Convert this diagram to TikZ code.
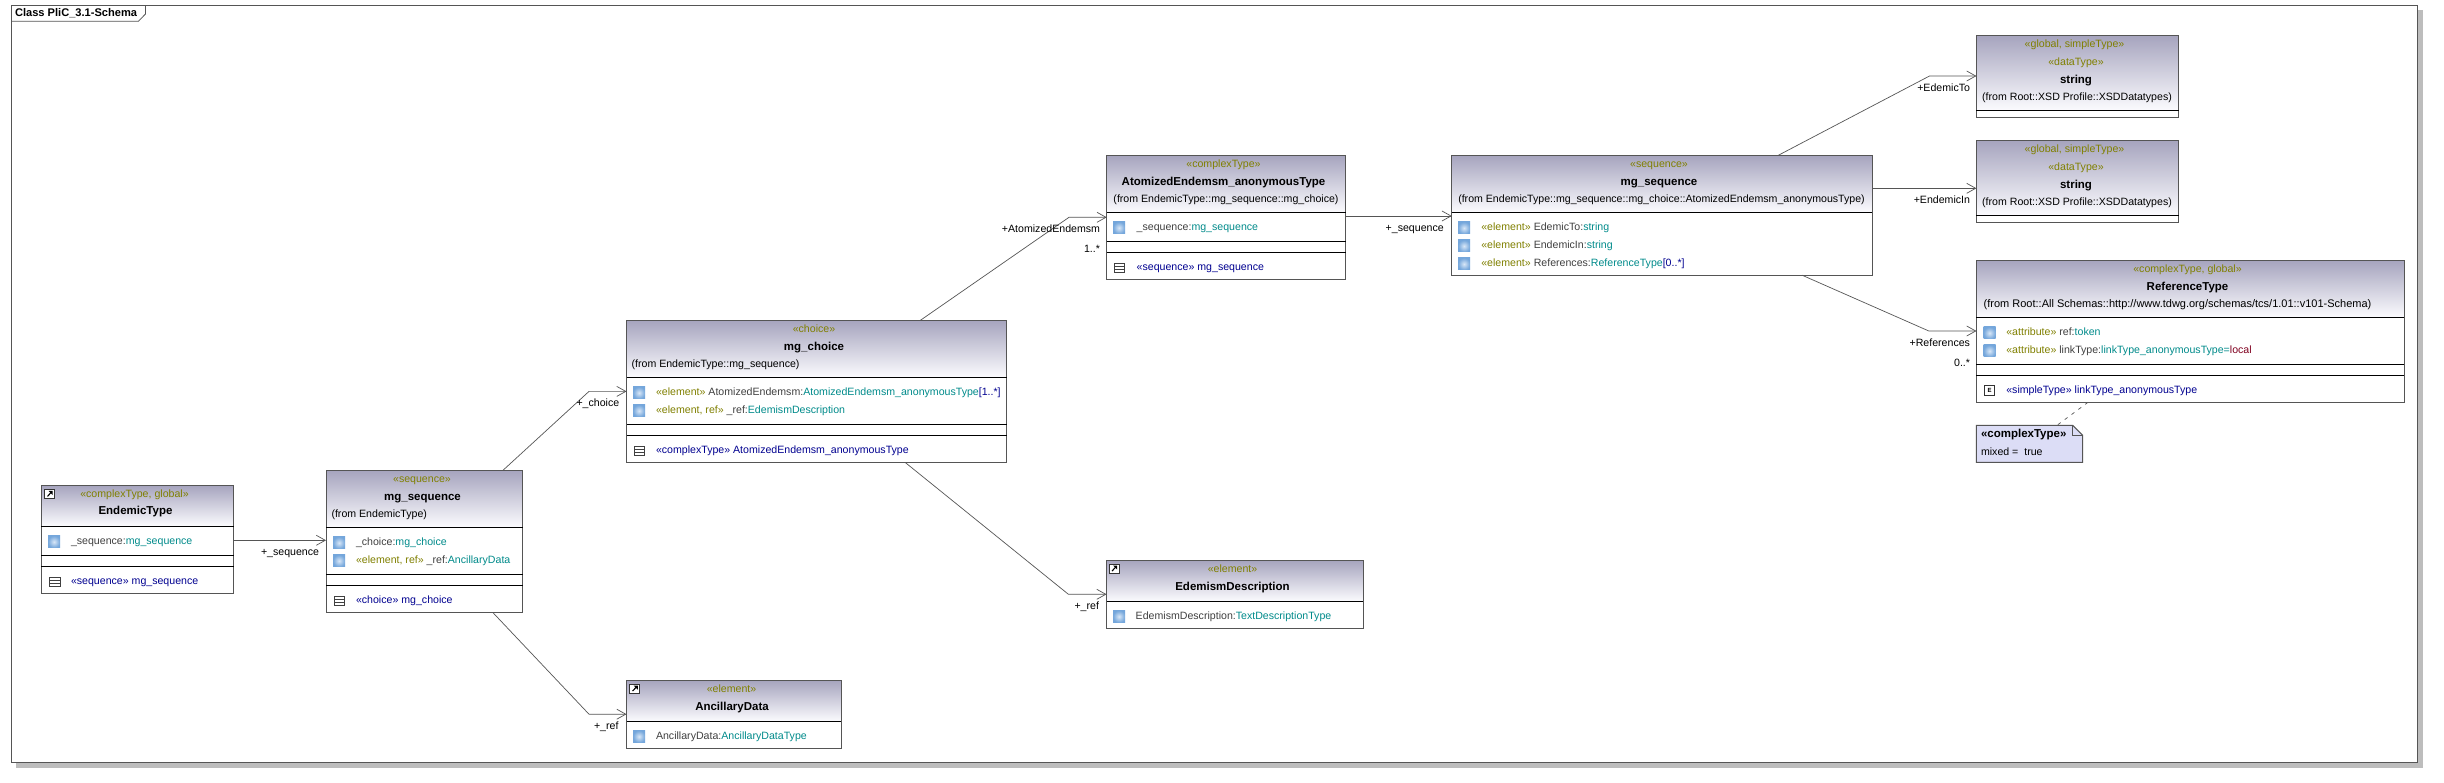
\documentclass[tikz,border=0pt]{standalone}
\usepackage{fontspec}
\setmainfont{Liberation Sans}
\usetikzlibrary{arrows.meta,calc,shapes.misc}
\definecolor{ster}{HTML}{808000}
\definecolor{typ}{HTML}{008B8B}
\definecolor{nam}{HTML}{404040}
\definecolor{opc}{HTML}{000090}
\definecolor{lit}{HTML}{800020}
\definecolor{edge}{HTML}{555555}
\definecolor{hdtop}{HTML}{A6A4BE}
\definecolor{hdbot}{HTML}{FBFBFE}
\definecolor{shad}{HTML}{BDBDBD}
\definecolor{notefill}{HTML}{DCDDF6}
\definecolor{HL}{HTML}{D9E7F7}
\definecolor{HD}{HTML}{74A6DB}
\newcommand{\st}[1]{\textcolor{ster}{#1}}
\newcommand{\ty}[1]{\textcolor{typ}{#1}}
\newcommand{\nm}[1]{\textcolor{nam}{#1}}
\newcommand{\op}[1]{\textcolor{opc}{#1}}
\newcounter{lblc}
\tikzset{
  every node/.style={inner sep=0pt,outer sep=0pt},
  lbl/.style={font=\fontsize{10.6}{13}\selectfont,text=black,yshift=-0.4pt},
  boxframe/.style={draw=edge,line width=1pt},
  hdr/.style={top color=hdtop,bottom color=hdbot,draw=none},
  sepl/.style={draw=black,line width=0.9pt},
  assoc/.style={draw=edge,line width=0.7pt,-{Straight Barb[length=9pt,width=10pt,line width=0.7pt]}},
  attric/.style={minimum width=12pt,minimum height=12pt,inner color=HL,outer color=HD},
  opic/.style={draw=black!75,line width=0.8pt,minimum width=10.5pt,minimum height=9pt},
  pinic/.style={draw=black!80,line width=0.8pt,fill=white,minimum width=10pt,minimum height=9pt},
}
\newcommand{\tL}[3]{\stepcounter{lblc}\node[lbl,anchor=mid west] (t\thelblc) at (#1,#2) {#3};}
\newcommand{\tC}[3]{\stepcounter{lblc}\node[lbl,anchor=mid] (t\thelblc) at (#1,#2) {#3};}
\newcommand{\tR}[3]{\stepcounter{lblc}\node[lbl,anchor=mid east] (t\thelblc) at (#1,#2) {#3};}
\newcommand{\tN}[3]{\stepcounter{lblc}\node[lbl,anchor=mid,font=\fontsize{11.5}{13}\selectfont\bfseries] (t\thelblc) at (#1,#2) {#3};}
% name x1 y1 x2 y2 yheader
\newcommand{\umlclass}[6]{%
  \pgfmathsetmacro{\bw}{#4-#2}\pgfmathsetmacro{\bh}{#5-#3}\pgfmathsetmacro{\hh}{#6-#3}%
  \node[hdr,minimum width=\bw pt,minimum height=\hh pt,anchor=north west] (#1-h) at (#2,#3) {};
  \node[boxframe,minimum width=\bw pt,minimum height=\bh pt,anchor=north west] (#1) at (#2,#3) {};
  \draw[sepl] (#1.west |- #1-h.south) -- (#1.east |- #1-h.south);
}
\newcommand{\sepat}[2]{\draw[sepl] (#1.west |- 0,#2) -- (#1.east |- 0,#2);}
\newcommand{\attr}[2]{\stepcounter{lblc}\node[attric] (i\thelblc) at (#1,#2) {};}
\newcommand{\opicn}[2]{\stepcounter{lblc}\node[opic] (i\thelblc) at (#1,#2) {};
  \draw[black!75,line width=0.8pt] ($(i\thelblc.north west)!0.34!(i\thelblc.south west)$) -- ($(i\thelblc.north east)!0.34!(i\thelblc.south east)$);
  \draw[black!75,line width=0.8pt] ($(i\thelblc.north west)!0.66!(i\thelblc.south west)$) -- ($(i\thelblc.north east)!0.66!(i\thelblc.south east)$);}
\newcommand{\pinicn}[2]{\stepcounter{lblc}\node[pinic] (i\thelblc) at (#1,#2) {};
  \draw[black,line width=1.1pt] ($(i\thelblc.center)+(-2.2,2.6)$) -- ($(i\thelblc.center)+(2,-2)$);
  \fill[black] ($(i\thelblc.center)+(-1.2,-3)$) -- ($(i\thelblc.center)+(3,-3)$) -- ($(i\thelblc.center)+(3,1.2)$) -- cycle;}
\begin{document}
\begin{tikzpicture}[x=1pt,y=-1pt]
\useasboundingbox (0,0) rectangle (2444,783);
% frame
\fill[shad] (16,9.7) rectangle (2423,768);
\node[draw=edge,fill=white,line width=1pt,minimum width=2406.4pt,minimum height=757pt,anchor=north west] (frame) at (11.3,5.3) {};
\coordinate (tabA) at (145.5,5.3);
\coordinate (tabB) at (145.5,14);
\coordinate (tabC) at (138.4,21.3);
\coordinate (tabD) at (11.3,21.3);
\draw[draw=edge,line width=0.8pt] (tabA) -- (tabB) -- (tabC) -- (tabD);
\node[lbl,anchor=mid west,font=\fontsize{11.1}{13}\selectfont\bfseries] (frametitle) at (15,13) {Class PliC\_3.1-Schema};

% EndemicType
\umlclass{endemic}{41.3}{485.3}{233.7}{593.7}{526}
\sepat{endemic}{555.3}\sepat{endemic}{566.3}
\pinicn{49.7}{493.8}
\tC{134.5}{494.3}{\st{«complexType, global»}}
\tN{135.5}{511.8}{EndemicType}
\attr{54}{541.8}
\tL{71}{541.3}{\nm{\_sequence:}\ty{mg\_sequence}}
\opicn{54.7}{582}
\tL{71}{581.3}{\op{«sequence» mg\_sequence}}

% mg_sequence 1
\umlclass{seqa}{326}{470.3}{522.7}{612.7}{527.3}
\sepat{seqa}{574.3}\sepat{seqa}{585.3}
\tC{422}{479.3}{\st{«sequence»}}
\tN{422.5}{497.3}{mg\_sequence}
\tL{331.5}{514.3}{(from EndemicType)}
\attr{339}{542.8}\attr{339}{560.8}
\tL{356}{542.3}{\nm{\_choice:}\ty{mg\_choice}}
\tL{356}{560.3}{\st{«element, ref»} \nm{\_ref:}\ty{AncillaryData}}
\opicn{339.5}{601.3}
\tL{356}{600.7}{\op{«choice» mg\_choice}}

% mg_choice
\umlclass{choice}{626.5}{320.3}{1006.6}{462.3}{377.3}
\sepat{choice}{424.3}\sepat{choice}{435.3}
\tC{814}{329.3}{\st{«choice»}}
\tN{814}{347.3}{mg\_choice}
\tL{631.6}{364.3}{(from EndemicType::mg\_sequence)}
\attr{639}{392.8}\attr{639}{410.8}
\tL{656}{392.3}{\st{«element»} \nm{AtomizedEndemsm:}\ty{AtomizedEndemsm\_anonymousType}\op{[1..*]}}
\tL{656}{410.3}{\st{«element, ref»} \nm{\_ref:}\ty{EdemismDescription}}
\opicn{639.5}{451}
\tL{656}{450.3}{\op{«complexType» AtomizedEndemsm\_anonymousType}}

% Atomized
\umlclass{atom}{1106.7}{155.3}{1345.7}{279.3}{212.3}
\sepat{atom}{241.3}\sepat{atom}{252.3}
\tC{1223.5}{164.7}{\st{«complexType»}}
\tN{1223.5}{182.3}{AtomizedEndemsm\_anonymousType}
\tC{1226}{199.3}{(from EndemicType::mg\_sequence::mg\_choice)}
\attr{1119}{227.8}
\tL{1136.7}{227.3}{\nm{\_sequence:}\ty{mg\_sequence}}
\opicn{1119.5}{268}
\tL{1136.7}{267.7}{\op{«sequence» mg\_sequence}}

% mg_sequence 2
\umlclass{seqb}{1451.7}{155.3}{1872.3}{275.3}{212.3}
\tC{1659}{164.7}{\st{«sequence»}}
\tN{1659}{182.3}{mg\_sequence}
\tC{1661.5}{199.3}{(from EndemicType::mg\_sequence::mg\_choice::AtomizedEndemsm\_anonymousType)}
\attr{1464}{228}\attr{1464}{246}\attr{1464}{264}
\tL{1481.3}{227.3}{\st{«element»} \nm{EdemicTo:}\ty{string}}
\tL{1481.3}{245.3}{\st{«element»} \nm{EndemicIn:}\ty{string}}
\tL{1481.3}{263.3}{\st{«element»} \nm{References:}\ty{ReferenceType}\op{[0..*]}}

% strings
\umlclass{stra}{1976.4}{35.3}{2178.8}{117.3}{110.3}
\tC{2074.5}{44.7}{\st{«global, simpleType»}}
\tC{2076}{62.7}{\st{«dataType»}}
\tN{2076}{80.3}{string}
\tC{2077}{97.3}{(from Root::XSD Profile::XSDDatatypes)}
\umlclass{strb}{1976.4}{140.3}{2178.8}{222.3}{215.3}
\tC{2074.5}{149.3}{\st{«global, simpleType»}}
\tC{2076}{167.3}{\st{«dataType»}}
\tN{2076}{185.3}{string}
\tC{2077}{202.3}{(from Root::XSD Profile::XSDDatatypes)}

% ReferenceType
\umlclass{ref}{1976.4}{260.3}{2404}{402.3}{317.3}
\sepat{ref}{364.3}\sepat{ref}{375.3}
\tC{2187.5}{269.3}{\st{«complexType, global»}}
\tN{2187.5}{287.3}{ReferenceType}
\tC{2177.5}{304.3}{\fontsize{11}{13}\selectfont (from Root::All Schemas::http://www.tdwg.org/schemas/tcs/1.01::v101-Schema)}
\attr{1989.5}{333}\attr{1989.5}{351}
\tL{2006.3}{332.3}{\st{«attribute»} \nm{ref:}\ty{token}}
\tL{2006.3}{350.3}{\st{«attribute»} \nm{linkType:}\ty{linkType\_anonymousType=}\textcolor{lit}{local}}
\node[draw=black!80,line width=0.8pt,fill=white,minimum width=10pt,minimum height=10pt,font=\fontsize{6}{6}\bfseries\selectfont] (eicon) at (1989.6,390.7) {E};
\tL{2006.3}{390.3}{\op{«simpleType» linkType\_anonymousType}}

% EdemismDescription
\umlclass{edem}{1106.5}{560.3}{1363}{628.3}{601.3}
\pinicn{1114.2}{568.5}
\tC{1232.5}{569.3}{\st{«element»}}
\tN{1232.5}{587.3}{EdemismDescription}
\attr{1119}{616.5}
\tL{1135.7}{616.3}{\nm{EdemismDescription:}\ty{TextDescriptionType}}

% AncillaryData
\umlclass{anc}{626.5}{680.3}{841.3}{748.3}{721.3}
\pinicn{634.8}{688.5}
\tC{731.5}{689.3}{\st{«element»}}
\tN{732}{707.3}{AncillaryData}
\attr{639}{736.5}
\tL{656}{736.3}{\nm{AncillaryData:}\ty{AncillaryDataType}}

% note
\node[minimum width=106.2pt,minimum height=37pt,anchor=north west] (note) at (1976.4,425.3) {};
\coordinate (foldA) at (2072.6,425.3);
\coordinate (foldB) at (2082.6,435.3);
\coordinate (foldC) at (2072.6,435.3);
\path[fill=notefill,draw=edge,line width=1pt] (note.north west) -- (foldA) -- (foldB) -- (note.south east) -- (note.south west) -- cycle;
\draw[draw=edge,line width=0.8pt] (foldA) -- (foldC) -- (foldB);
\node[lbl,anchor=mid west,font=\fontsize{11.5}{13}\selectfont\bfseries] (notehead) at (1981,434.3) {«complexType»};
\tL{1981}{452.3}{mixed =\ \ true}
\draw[draw=edge,line width=0.7pt,dash pattern=on 3.5pt off 5pt] (2088,0 |- ref.south) -- (2057,0 |- note.north);

% connectors
\draw[assoc] (endemic.east |- 0,540.3) -- (seqa.west |- 0,540.3);
\tL{261}{552.3}{+\_sequence}

\coordinate (bendA) at (589,391.4);
\draw[assoc] (503,0 |- seqa.north) -- (bendA) -- (choice.west |- bendA);
\tL{576.5}{403}{+\_choice}

\coordinate (bendB) at (589,714.2);
\draw[assoc] (493,0 |- seqa.south) -- (bendB) -- (anc.west |- bendB);
\tL{594}{726.5}{+\_ref}

\coordinate (bendC) at (1069,217.3);
\draw[assoc] (920.4,0 |- choice.north) -- (bendC) -- (atom.west |- bendC);
\tR{1100}{229.3}{+AtomizedEndemsm}
\tR{1100}{249.3}{1..*}

\coordinate (bendD) at (1068.4,594.3);
\draw[assoc] (905,0 |- choice.south) -- (bendD) -- (edem.west |- bendD);
\tR{1099}{606.7}{+\_ref}

\draw[assoc] (atom.east |- 0,216) -- (seqb.west |- 0,216);
\tL{1385.7}{228.7}{+\_sequence}

\coordinate (bendE) at (1929.5,76);
\draw[assoc] (1778.3,0 |- seqb.north) -- (bendE) -- (stra.west |- bendE);
\tR{1970}{88.3}{+EdemicTo}

\draw[assoc] (seqb.east |- 0,188.3) -- (strb.west |- 0,188.3);
\tR{1970}{200.3}{+EndemicIn}

\coordinate (bendF) at (1928.8,331);
\draw[assoc] (1802.3,0 |- seqb.south) -- (bendF) -- (ref.west |- bendF);
\tR{1970}{343.3}{+References}
\tR{1970}{363.3}{0..*}
\end{tikzpicture}
\end{document}
